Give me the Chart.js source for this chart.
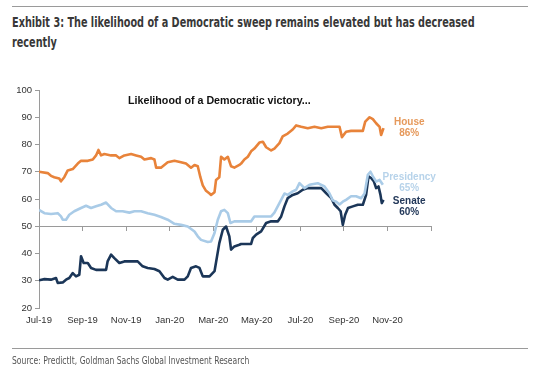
<!DOCTYPE html>
<html>
<head>
<meta charset="utf-8">
<script src="https://cdn.jsdelivr.net/npm/chart.js@4.4.0/dist/chart.umd.min.js"></script>
<style>
  html, body { margin: 0; padding: 0; background: #fff; }
  #wrap { position: relative; width: 540px; height: 371px; overflow: hidden; }
  #chart { position: absolute; left: 0; top: 0; }
  .rule { position: absolute; left: 12px; width: 516px; height: 1px; background: #9a9a9a; }
  #title {
    position: absolute; left: 12px; top: 12px; white-space: nowrap;
    font: bold 14px "DejaVu Sans Condensed", "Liberation Sans", sans-serif;
    color: #383838; line-height: 20px;
    transform: scaleX(0.77); transform-origin: 0 0;
  }
  #source {
    position: absolute; left: 12px; top: 355px; white-space: nowrap;
    font: 10px "DejaVu Sans Condensed", "Liberation Sans", sans-serif;
    color: #555;
    transform: scaleX(0.85); transform-origin: 0 0;
  }
  #sub {
    position: absolute; left: 128px; top: 94px;
    font: bold 10.7px "Liberation Sans", Arial, sans-serif; color: #111;
  }
</style>
</head>
<body>
<div id="wrap">
  <div class="rule" style="top:6px"></div>
  <div id="title">Exhibit 3: The likelihood of a Democratic sweep remains elevated but has decreased<br>recently</div>
  <canvas id="chart" width="540" height="371"></canvas>
  <div id="sub">Likelihood of a Democratic victory...</div>
  <div class="rule" style="top:348px"></div>
  <div id="source">Source: PredictIt, Goldman Sachs Global Investment Research</div>
</div>
<script>
// month labels (x = months since Jul-19)
const monthLabels = ['Jul-19', 'Sep-19', 'Nov-19', 'Jan-20', 'Mar-20', 'May-20', 'Jul-20', 'Sep-20', 'Nov-20'];
const yTicks = [20, 30, 40, 50, 60, 70, 80, 90, 100];

// House
const houseX = [0, 0.4, 0.55, 0.7, 0.93, 1.01, 1.16, 1.32, 1.55, 1.78, 1.93, 2.24, 2.47, 2.62, 2.73, 2.85, 3.0, 3.31, 3.54, 3.69, 3.92, 4.23, 4.46, 4.69, 4.84, 5.15, 5.3, 5.38, 5.6, 5.91, 6.22, 6.52, 6.75, 6.98, 7.14, 7.29, 7.41, 7.52, 7.67, 7.83, 7.9, 8.06, 8.13, 8.28, 8.36, 8.51, 8.67, 8.82, 8.97, 9.2, 9.28, 9.43, 9.59, 9.74, 9.89, 10.12, 10.28, 10.43, 10.66, 10.81, 11.04, 11.19, 11.42, 11.65, 11.81, 12.04, 12.34, 12.65, 12.96, 13.26, 13.57, 13.8, 13.91, 14.1, 14.33, 14.64, 14.87, 14.98, 15.18, 15.33, 15.48, 15.64, 15.71, 15.82];
const houseY = [70, 69.5, 68.5, 68, 67.5, 66.5, 68, 70.5, 71, 73, 74, 74, 74.5, 76, 78, 76, 76.5, 76, 76, 75, 76, 76.5, 76, 75.5, 74.5, 75, 74.5, 71.5, 71.5, 73.5, 74, 73.5, 73, 71.5, 72.5, 72, 68, 65, 63, 62, 61.5, 62.5, 67, 68, 75.5, 74.5, 75.5, 72, 71.5, 72.5, 73, 74.5, 75.5, 77.5, 78.5, 80.7, 81, 79, 77.8, 78.5, 80.5, 83, 84, 85.5, 87, 86.5, 86, 86.5, 86, 86.5, 86.5, 86.5, 82.7, 84.7, 85, 85, 85, 88.4, 90, 89.3, 87.8, 86.5, 83.5, 86];

// Presidency
const presX = [0, 0.25, 0.55, 0.86, 1.01, 1.09, 1.24, 1.39, 1.62, 1.93, 2.16, 2.39, 2.62, 2.85, 3.08, 3.31, 3.54, 3.84, 4.15, 4.38, 4.69, 4.99, 5.3, 5.6, 5.91, 6.22, 6.52, 6.83, 7.14, 7.29, 7.44, 7.75, 7.9, 8.06, 8.21, 8.36, 8.51, 8.67, 8.79, 8.97, 9.28, 9.74, 9.89, 10.66, 10.81, 11.04, 11.27, 11.42, 11.65, 11.81, 11.96, 12.19, 12.42, 12.8, 13.11, 13.34, 13.49, 13.65, 13.8, 13.95, 14.1, 14.33, 14.56, 14.79, 14.95, 15.1, 15.22, 15.33, 15.48, 15.64, 15.79];
const presY = [56, 54.8, 54.5, 54.8, 53.6, 52.4, 52.4, 54.2, 55.5, 56.7, 57.5, 56.7, 57.3, 57.9, 58.7, 56.7, 55.5, 55.5, 55, 55.5, 55.5, 54.8, 54.2, 53.4, 52.4, 50.9, 50.5, 49.9, 48.1, 46.3, 45, 44.2, 44.4, 47.5, 52.4, 55.5, 56, 54.8, 51.2, 51.8, 51.8, 51.8, 53.6, 53.6, 55, 58.5, 62, 61.5, 62.8, 63.4, 65.8, 64, 65.2, 65.8, 64.6, 62, 59.5, 59, 58, 59, 59.7, 61, 61, 60.3, 62, 68.9, 70, 68.3, 66.4, 67, 65.2];

// Senate
const senX = [0, 0.25, 0.55, 0.78, 0.86, 1.09, 1.24, 1.39, 1.55, 1.7, 1.85, 1.93, 2.05, 2.24, 2.39, 2.62, 2.85, 3.08, 3.15, 3.31, 3.46, 3.69, 3.92, 4.23, 4.53, 4.76, 4.99, 5.3, 5.53, 5.76, 5.91, 6.14, 6.37, 6.68, 6.83, 6.98, 7.21, 7.37, 7.52, 7.83, 8.06, 8.28, 8.44, 8.59, 8.74, 8.82, 8.97, 9.2, 9.28, 9.74, 9.82, 9.97, 10.2, 10.43, 10.66, 10.97, 11.12, 11.27, 11.42, 11.65, 11.88, 12.11, 12.34, 12.65, 12.96, 13.19, 13.42, 13.57, 13.72, 13.85, 13.95, 14.06, 14.19, 14.41, 14.64, 14.87, 15.02, 15.13, 15.25, 15.38, 15.48, 15.59, 15.68, 15.74, 15.82];
const senY = [30.2, 30.6, 30.4, 31, 29.2, 29.4, 30.4, 31, 32.8, 31.6, 32.2, 39, 36.5, 36.5, 34.7, 34, 34, 34, 37.1, 39.6, 38.3, 36.5, 37.1, 37.1, 37.1, 35.3, 34.7, 34.3, 33.5, 31, 30.4, 31.4, 30.4, 30.4, 31.6, 34.7, 35.3, 34.7, 31.6, 31.6, 33.5, 43.8, 48.7, 49.9, 46.3, 41.4, 42.6, 43.2, 43.5, 43.5, 45.7, 46.9, 48.1, 51.2, 51.8, 51.8, 53.6, 57.3, 60.3, 61.5, 62.1, 63.4, 64, 64, 64, 62.1, 60.3, 57.9, 56.7, 55.5, 50.5, 54.2, 56.7, 57.3, 57.9, 57.9, 61.5, 68.3, 67.7, 66.4, 64, 64.6, 61.5, 58.5, 59.7];

const seriesNames = ['House', 'Presidency', 'Senate'];
const lastValues = ['86%', '65%', '60%'];

const toPoints = (xs, ys) => xs.map((x, i) => ({ x, y: ys[i] }));

// labels at the right end of the lines
const endLabels = {
  id: 'endLabels',
  afterDatasetsDraw(chart) {
    const { ctx, scales: { x, y } } = chart;
    const spots = [
      { v: 86, color: '#e6995b' },
      { v: 66, color: '#b7d3ea' },
      { v: 57.3, color: '#24395a' },
    ];
    ctx.save();
    ctx.font = 'bold 10px "Liberation Sans", Arial, sans-serif';
    ctx.textAlign = 'center';
    ctx.textBaseline = 'middle';
    spots.forEach((s, i) => {
      const px = x.getPixelForValue(17);
      const py = y.getPixelForValue(s.v);
      ctx.fillStyle = s.color;
      ctx.fillText(seriesNames[i], px, py - 5.5);
      ctx.fillText(lastValues[i], px, py + 5.5);
    });
    ctx.restore();
  }
};

const tickFont = { family: '"Liberation Sans", Arial, sans-serif', size: 9.5 };

new Chart(document.getElementById('chart'), {
  type: 'line',
  data: {
    datasets: [
      { label: seriesNames[0], data: toPoints(houseX, houseY), borderColor: '#e8833a', borderWidth: 2.6 },
      { label: seriesNames[1], data: toPoints(presX, presY), borderColor: '#a9cbe7', borderWidth: 2.6 },
      { label: seriesNames[2], data: toPoints(senX, senY), borderColor: '#1b3658', borderWidth: 2.6 },
    ]
  },
  options: {
    responsive: false,
    animation: false,
    elements: { point: { radius: 0 }, line: { tension: 0, borderJoinStyle: 'round' } },
    layout: { padding: { top: 90, right: 109, bottom: 0, left: 0 } },
    plugins: { legend: { display: false }, tooltip: { enabled: false } },
    scales: {
      x: {
        type: 'linear', min: 0, max: 18,
        grid: { display: false, drawTicks: false },
        border: { display: false },
        afterFit: s => { s.height = 63; },
        afterBuildTicks: s => { s.ticks = monthLabels.map((_, i) => ({ value: i * 2 })); },
        ticks: {
          padding: 7, color: '#333', font: tickFont, maxRotation: 0, autoSkip: false,
          callback: v => monthLabels[v / 2]
        }
      },
      xAxis50: {
        type: 'linear', min: 0, max: 18, position: { y: 50 },
        grid: { drawOnChartArea: false, drawTicks: true, tickLength: 4, color: '#9a9a9a' },
        border: { display: true, color: '#9a9a9a', width: 1 },
        afterBuildTicks: s => { s.ticks = monthLabels.map((_, i) => ({ value: i * 2 })).concat([{ value: 18 }]); },
        ticks: { display: false }
      },
      y: {
        min: 20, max: 100,
        afterFit: s => { s.width = 39; },
        afterBuildTicks: s => { s.ticks = yTicks.map(v => ({ value: v })); },
        grid: { drawOnChartArea: false, drawTicks: true, tickLength: 4, color: '#9a9a9a' },
        border: { display: true, color: '#9a9a9a', width: 1 },
        ticks: { padding: 3, color: '#333', font: tickFont }
      }
    }
  },
  plugins: [endLabels]
});
</script>
</body>
</html>
